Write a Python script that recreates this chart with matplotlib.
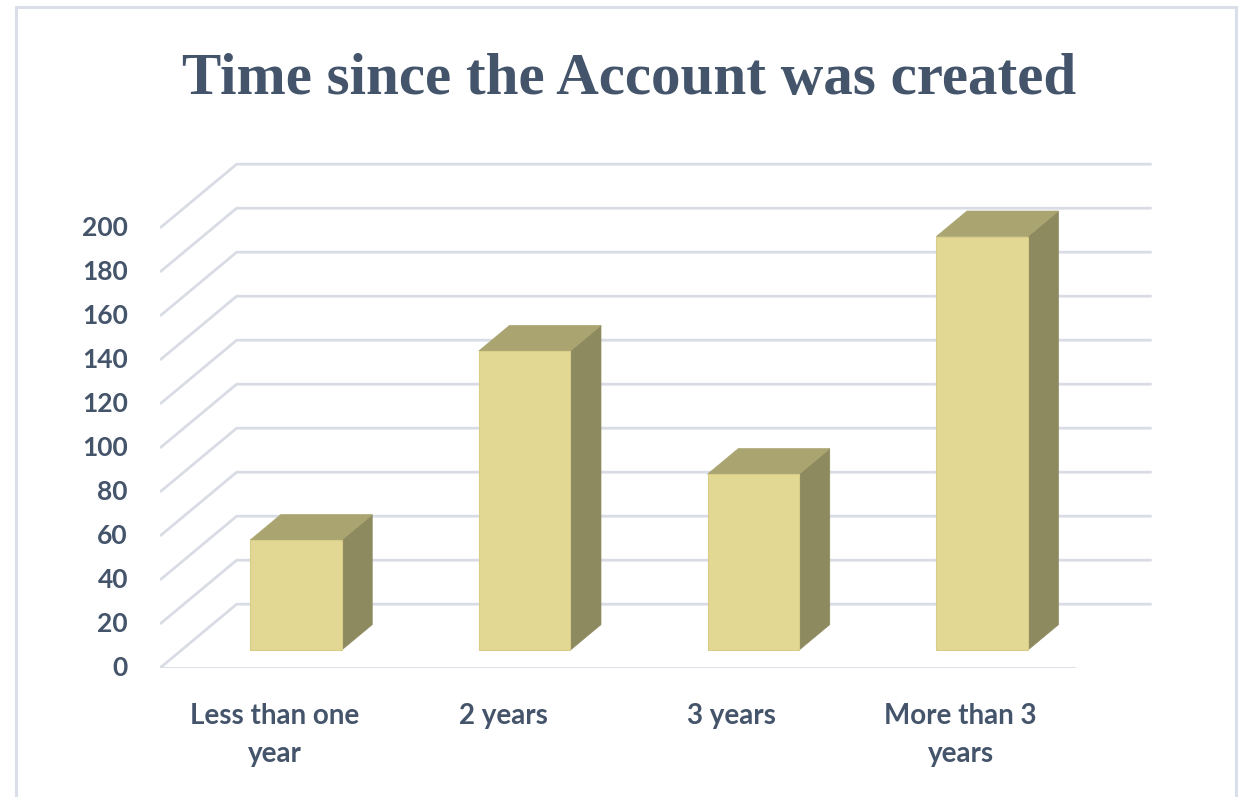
import matplotlib
matplotlib.use("Agg")
import matplotlib.pyplot as plt
from matplotlib.patches import Polygon, Rectangle
from matplotlib.transforms import ScaledTranslation

categories = ["Less than one\nyear", "2 years", "3 years", "More than 3\nyears"]
counts = [50, 136, 80, 188]
y_ticks = [0, 20, 40, 60, 80, 100, 120, 140, 160, 180, 200]

text_color = "#44546A"
grid_color = "#D9DCE5"
face_front = "#E2D893"
face_top = "#AAA570"
face_side = "#8E8A5F"

# oblique 3-D look: how far the back wall sits from the floor front edge
depth_x = 0.335     # in category units
depth_y = 29.0      # in value units
bar_front, bar_back = 0.28, 0.68   # bar depth as a fraction of the floor depth
half_w = 0.2

fig = plt.figure(figsize=(12.43, 7.97), dpi=100)
ax = fig.add_axes([160 / 1243, 129 / 797, 1000 / 1243, 518 / 797])
ax.set_xlim(-0.5, -0.5 + 1000 / 228.75)
ax.set_ylim(0, 518 / 2.2)
ax.axis("off")

n = len(categories)
left, right = -0.5, n - 0.5

# floor front edge
ax.plot([left, right], [0, 0], color=grid_color, lw=2, zorder=1, solid_capstyle="butt")
# gridlines: diagonal on the side wall, then straight across the back wall
tick_shift = ax.transData + ScaledTranslation(-32 / 100, 0, fig.dpi_scale_trans)
for v in y_ticks:
    ax.plot([left, left + depth_x, right + depth_x], [v, v + depth_y, v + depth_y],
            color=grid_color, lw=2, zorder=1, solid_capstyle="butt")
    ax.text(left, v, str(v), ha="right", va="center", fontsize=19, fontweight="bold",
            color=text_color, family="Lato", transform=tick_shift)

label_shift = ax.transData + ScaledTranslation(0, -35 / 100, fig.dpi_scale_trans)
for i, v in enumerate(counts):
    x0, x1 = i - half_w, i + half_w
    fx, fy = bar_front * depth_x, bar_front * depth_y
    bx, by = bar_back * depth_x, bar_back * depth_y
    side = [(x1 + fx, fy), (x1 + bx, by), (x1 + bx, v + by), (x1 + fx, v + fy)]
    top = [(x0 + fx, v + fy), (x1 + fx, v + fy), (x1 + bx, v + by), (x0 + bx, v + by)]
    ax.add_patch(Polygon(side, closed=True, facecolor=face_side, edgecolor=face_side, lw=0.5, zorder=3))
    ax.add_patch(Polygon(top, closed=True, facecolor=face_top, edgecolor=face_top, lw=0.5, zorder=3))
    ax.add_patch(Rectangle((x0 + fx, fy), x1 - x0, v, facecolor=face_front,
                           edgecolor="#D8CD86", lw=0.8, zorder=4))

    ax.text(i, 0, categories[i], ha="center", va="top", fontsize=20, fontweight="bold",
            color=text_color, family="Lato", linespacing=1.58, transform=label_shift)

fig.text(629 / 1243, 1 - 94 / 797, "Time since the Account was created", ha="center", va="baseline",
         fontsize=42.5, fontweight="bold", family="Liberation Serif", color=text_color)

# thin frame around the chart area
fig.patches.append(Rectangle((16 / 1243, -0.02), 1220 / 1243, 1.02 - 7 / 797,
                             transform=fig.transFigure, fill=False, edgecolor="#D9DEE8", lw=2.2))

fig.savefig("out.png", dpi=100, facecolor="white")
